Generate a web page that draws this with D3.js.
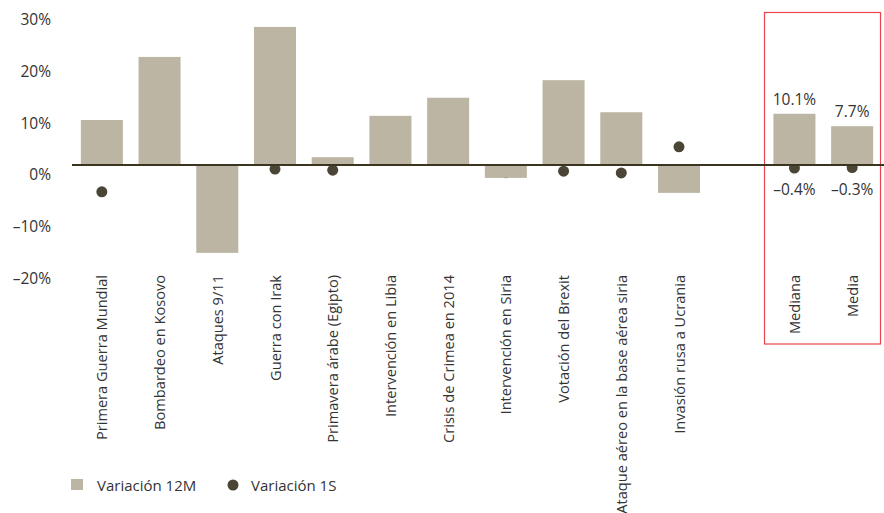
<!DOCTYPE html>
<html>
<head>
<meta charset="utf-8">
<script src="https://cdn.jsdelivr.net/npm/d3@7"></script>
<style>
  html, body { margin: 0; padding: 0; background: #fff; }
  svg { display: block; font-family: "Open Sans", "Noto Sans", sans-serif; }
</style>
</head>
<body>
<svg id="chart" width="884" height="513"></svg>
<script>
// Geopolitical events and summary statistics
const events = [
  "Primera Guerra Mundial", "Bombardeo en Kosovo", "Ataques 9/11", "Guerra con Irak",
  "Primavera árabe (Egipto)", "Intervención en Libia", "Crisis de Crimea en 2014",
  "Intervención en Siria", "Votación del Brexit", "Ataque aéreo en la base aérea siria",
  "Invasión rusa a Ucrania"
];
const summary = ["Mediana", "Media"];

// Market change after each event, in %
const change12M = [8.9, 21.1, -16.8, 26.9, 1.7, 9.7, 13.2, -2.3, 16.6, 10.4, -5.2];
const change1S  = [-5.0, 1.6, -2.1, -0.6, -0.8, 2.0, 1.5, -1.3, -1.0, -1.35, 3.7];
const summary12M = [10.1, 7.7];
const summary1S  = [-0.4, -0.3];

const yTicks = [-20, -10, 0, 10, 20, 30];
const legendLabels = ["Variación 12M", "Variación 1S"];

const BAR = "#bcb5a3", DOT = "#4a4535", LINE = "#3a3421", TEXT = "#333333", RED = "#e8454a";

const svg = d3.select("#chart");

const rows = events.map((name, i) => ({ name, v12: change12M[i], v1: change1S[i], summary: false }))
  .concat(summary.map((name, i) => ({ name, v12: summary12M[i], v1: summary1S[i], summary: true })));

const gapKey = "\u00a0";
const domain = events.concat([gapKey], summary);

const x = d3.scaleBand().domain(domain).range([73, 881]).paddingInner(0.272).paddingOuter(0.136);
const y = d3.scaleLinear().domain([-20, 30]).range([269.4, 10.9]);

const fmt = v => (v < 0 ? "\u2013" : "") + Math.abs(v).toFixed(1) + "%";

// Y axis labels (no domain line or ticks)
const yAxis = d3.axisLeft(y).tickValues(yTicks).tickSize(0).tickPadding(0)
  .tickFormat(d => (d < 0 ? "\u2013" : "") + Math.abs(d) + "%");
const gy = svg.append("g").attr("transform", "translate(51,9)").call(yAxis);
gy.select(".domain").remove();
gy.selectAll("text").attr("fill", TEXT).style("font-size", "15.5px")
  .style("font-family", "'Open Sans', 'Noto Sans', sans-serif");

// Highlight box around summary columns
svg.append("rect")
  .attr("x", 764.5).attr("y", 12.5).attr("width", 116).attr("height", 331.5)
  .attr("fill", "none").attr("stroke", RED).attr("stroke-width", 1.2);

// 1-week change dots (behind bars)
svg.append("g").selectAll("circle").data(rows).join("circle")
  .attr("cx", d => x(d.name) + x.bandwidth() / 2)
  .attr("cy", d => y(d.v1))
  .attr("r", 5.5)
  .attr("fill", DOT);

// 12-month change bars
svg.append("g").selectAll("rect").data(rows).join("rect")
  .attr("x", d => x(d.name))
  .attr("width", x.bandwidth())
  .attr("y", d => y(Math.max(0, d.v12)))
  .attr("height", d => Math.abs(y(d.v12) - y(0)))
  .attr("fill", BAR);

// Zero line
svg.append("line")
  .attr("x1", 72).attr("x2", 884)
  .attr("y1", y(0) - 1).attr("y2", y(0) - 1)
  .attr("stroke", LINE).attr("stroke-width", 2.2);

// Value labels for summary columns
const sumRows = rows.filter(d => d.summary);
svg.append("g").selectAll("text.top").data(sumRows).join("text")
  .attr("class", "top")
  .attr("x", d => x(d.name) + x.bandwidth() / 2)
  .attr("y", d => y(d.v12) - 9)
  .attr("text-anchor", "middle")
  .attr("fill", TEXT).style("font-size", "15.5px")
  .text(d => fmt(d.v12));
svg.append("g").selectAll("text.bot").data(sumRows).join("text")
  .attr("class", "bot")
  .attr("x", d => x(d.name) + x.bandwidth() / 2)
  .attr("y", 194.5)
  .attr("text-anchor", "middle")
  .attr("fill", TEXT).style("font-size", "15.5px")
  .text(d => fmt(d.v1));

// Category labels, rotated
svg.append("g").selectAll("text.cat").data(rows).join("text")
  .attr("class", "cat")
  .attr("transform", d => `translate(${x(d.name) + x.bandwidth() / 2 + 5.5},275) rotate(-90)`)
  .attr("text-anchor", "end")
  .attr("fill", TEXT).style("font-size", "14.6px")
  .text(d => d.name);

// Legend
const lg = svg.append("g");
lg.append("rect").attr("x", 71).attr("y", 479).attr("width", 12).attr("height", 11).attr("fill", BAR);
lg.append("text").attr("x", 97).attr("y", 490.5).attr("fill", TEXT).style("font-size", "15px").text(legendLabels[0]);
lg.append("circle").attr("cx", 233).attr("cy", 485).attr("r", 5.5).attr("fill", DOT);
lg.append("text").attr("x", 251).attr("y", 490.5).attr("fill", TEXT).style("font-size", "15px").text(legendLabels[1]);
</script>
</body>
</html>
